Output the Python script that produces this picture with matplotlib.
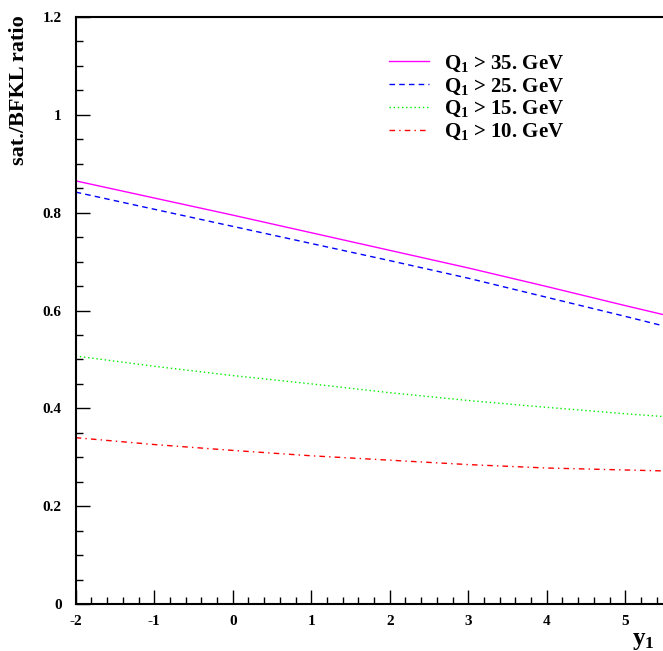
import matplotlib.pyplot as plt
import numpy as np
from matplotlib.ticker import MultipleLocator

# data
y1 = [-2, -1, 0, 1, 2, 3, 4, 5, 5.5]
q35 = [0.865, 0.830, 0.795, 0.759, 0.723, 0.687, 0.649, 0.610, 0.591]
q25 = [0.842, 0.807, 0.772, 0.737, 0.702, 0.666, 0.627, 0.588, 0.568]
q15 = [0.507, 0.486, 0.467, 0.450, 0.432, 0.416, 0.402, 0.389, 0.383]
q10 = [0.340, 0.326, 0.314, 0.303, 0.294, 0.285, 0.278, 0.274, 0.272]

xticks = [-2, -1, 0, 1, 2, 3, 4, 5]
xlabels = ['-2', '-1', '0', '1', '2', '3', '4', '5']
yticks = [0, 0.2, 0.4, 0.6, 0.8, 1.0, 1.2]
ylabels = ['0', '0.2', '0.4', '0.6', '0.8', '1', '1.2']

plt.rcParams['font.family'] = 'Liberation Serif'
plt.rcParams['font.weight'] = 'bold'
plt.rcParams['mathtext.fontset'] = 'custom'
plt.rcParams['mathtext.bf'] = 'Liberation Serif:bold'
plt.rcParams['mathtext.rm'] = 'Liberation Serif:bold'

fig = plt.figure(figsize=(6.63, 6.51), dpi=100)
ax = fig.add_axes([75.7/663, 47/651, 588.8/663, 587/651])

ax.plot(y1, q35, color='#ff00ff', lw=1.0, ls='-', label=r'$\mathbf{Q_1}$ > 35. GeV')
ax.plot(y1, q25, color='#0000ff', lw=1.0, ls=(0, (4, 3)), label=r'$\mathbf{Q_1}$ > 25. GeV')
ax.plot(y1, q15, color='#00ee00', lw=1.0, ls=(0, (1, 2)), label=r'$\mathbf{Q_1}$ > 15. GeV')
ax.plot(y1, q10, color='#ff0000', lw=1.0, ls=(0, (4, 3, 1, 3)), label=r'$\mathbf{Q_1}$ > 10. GeV')

ax.set_xlim(-2, 5.5)
ax.set_ylim(0, 1.2)

ax.set_xticks(xticks)
ax.set_xticklabels(xlabels)
ax.set_yticks(yticks)
ax.set_yticklabels(ylabels)
ax.xaxis.set_minor_locator(MultipleLocator(0.2))
ax.yaxis.set_minor_locator(MultipleLocator(0.05))
ax.tick_params(which='both', direction='in', top=False, right=False, labelsize=11, width=1)
ax.tick_params(which='major', length=10)
ax.tick_params(which='minor', length=5)
ax.tick_params(axis='x', pad=8)
ax.tick_params(axis='y', pad=10)

for s in ['left', 'bottom', 'top']:
    ax.spines[s].set_linewidth(1.5)
ax.spines['right'].set_color('#dddddd')
ax.spines['right'].set_linewidth(1)

ax.set_ylabel('sat./BFKL ratio', fontsize=16, fontweight='bold')
ax.yaxis.set_label_coords(-0.079, 0.876)

fig.text(0.97, -0.002, r'$\mathbf{y_1}$', fontsize=18, ha='center', va='bottom')

leg = ax.legend(loc='upper left', bbox_to_anchor=(0.532, 0.938), frameon=False,
                fontsize=15, handlelength=1.9, handletextpad=0.72, labelspacing=0.13,
                borderpad=0, borderaxespad=0)

fig.savefig('out.png', dpi=100)
